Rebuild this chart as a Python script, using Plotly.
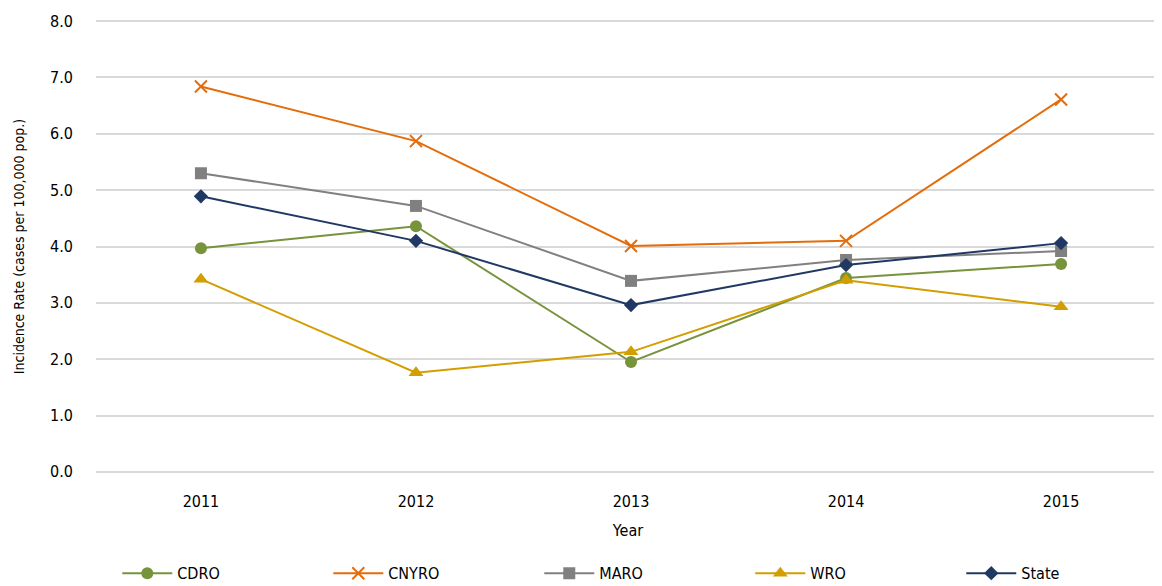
import plotly.graph_objects as go

years = [2011, 2012, 2013, 2014, 2015]
x_pos = [0, 1, 2, 3, 4]
cdro = [3.97, 4.36, 1.95, 3.44, 3.69]
cnyro = [6.84, 5.87, 4.01, 4.10, 6.61]
maro = [5.30, 4.72, 3.39, 3.76, 3.92]
wro = [3.42, 1.76, 2.13, 3.40, 2.93]
state = [4.89, 4.10, 2.96, 3.67, 4.06]
y_ticks = [0, 1, 2, 3, 4, 5, 6, 7, 8]

series = [
    ("CDRO", cdro, "#77933C", "circle", 12),
    ("CNYRO", cnyro, "#E46C0A", "x-thin-open", 12),
    ("MARO", maro, "#808080", "square", 12),
    ("WRO", wro, "#D29E00", "triangle-up", 13),
    ("State", state, "#1F3864", "diamond", 11),
]

FONT = "DejaVu Sans Condensed, Liberation Sans Narrow, Liberation Sans, sans-serif"

fig = go.Figure()
for name, vals, color, sym, size in series:
    fig.add_trace(go.Scatter(
        x=x_pos, y=vals, name=name, mode="lines+markers",
        line=dict(color=color, width=2),
        marker=dict(symbol=sym, size=size, color=color,
                    line=dict(color=color, width=2 if "open" in sym else 0)),
    ))

fig.update_layout(
    width=1154, height=578,
    margin=dict(l=88, r=2, t=12, b=113, autoexpand=False),
    paper_bgcolor="white", plot_bgcolor="white",
    font=dict(family=FONT, size=15, color="#000000"),
    xaxis=dict(range=[-0.488, 4.46], tickvals=x_pos, ticktext=[str(y) for y in years],
               showgrid=False, zeroline=False, showline=False, ticks="",
               tickfont=dict(size=16), ticklabelstandoff=17,
               title=dict(text="Year", font=dict(size=16), standoff=14)),
    yaxis=dict(range=[-0.02, 8.02], tickvals=y_ticks, ticktext=[f"{v:.1f}" for v in y_ticks],
               showgrid=True, gridcolor="#D9D9D9", gridwidth=1.5, zeroline=False,
               tickfont=dict(size=16), ticks="", ticklabelstandoff=22,
               title=dict(text="Incidence Rate (cases per 100,000 pop.)", font=dict(size=14), standoff=22)),
    legend=dict(orientation="h", x=0.02, xanchor="left", yref="container", y=0.022, yanchor="middle",
                entrywidth=146, font=dict(size=16), itemwidth=50),
)
fig.write_html("out.html")
